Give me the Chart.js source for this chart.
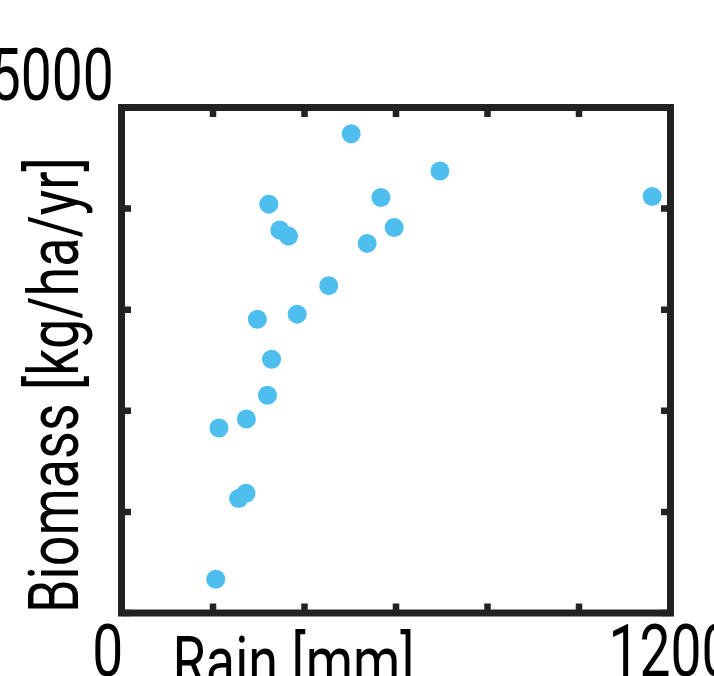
<!DOCTYPE html>
<html>
<head>
<meta charset="utf-8">
<script src="https://cdn.jsdelivr.net/npm/chart.js@4"></script>
<style>
  html, body { margin: 0; padding: 0; background: #fff; }
  #wrap { width: 714px; height: 676px; }
</style>
</head>
<body>
<div id="wrap"><canvas id="chart" width="714" height="676"></canvas></div>
<script>
const rain = [502, 696, 567, 1160, 322, 346, 365, 596, 537, 453, 384, 297, 328, 319, 273, 213, 272, 256, 206];
const biomass = [4741, 4371, 4109, 4119, 4044, 3789, 3728, 3813, 3656, 3238, 2956, 2905, 2510, 2153, 1918, 1830, 1184, 1133, 333];
const xLabelled = [0, 1200];
const yLabelled = [5000];
const xTitle = "Rain [mm]";
const yTitle = "Biomass [kg/ha/yr]";

const FONT = "Roboto, 'DejaVu Sans Condensed', sans-serif";
const INK = "#222";
const TICK_SIZE = 73;
const TITLE_SIZE = 70;

const canvas = document.querySelector("#chart");
const ctx = canvas.getContext("2d");

// no condensed face is installed, so squeeze the text horizontally round its anchor
const squeeze = { [TICK_SIZE]: 0.756, [TITLE_SIZE]: 0.77 };
const rawFillText = ctx.fillText.bind(ctx);
ctx.fillText = function (text, x, y) {
  const m = /(\d+(?:\.\d+)?)px/.exec(this.font);
  const sx = (m && squeeze[Math.round(+m[1])]) || 1;
  this.save();
  this.translate(x, y);
  this.scale(sx, 1);
  rawFillText(text, 0, 0);
  this.restore();
};

// box round the plot with inward tick marks on all four sides
const frame = {
  id: "frame",
  afterDatasetsDraw(chart) {
    const { ctx, chartArea: a, scales } = chart;
    ctx.save();
    ctx.strokeStyle = INK;
    ctx.lineWidth = 7;
    ctx.strokeRect(a.left, a.top, a.right - a.left, a.bottom - a.top);
    ctx.lineWidth = 6.5;
    ctx.beginPath();
    scales.x.ticks.forEach(t => {
      const px = scales.x.getPixelForValue(t.value);
      ctx.moveTo(px, a.bottom); ctx.lineTo(px, a.bottom - 9.5);
      ctx.moveTo(px, a.top); ctx.lineTo(px, a.top + 9.5);
    });
    scales.y.ticks.forEach(t => {
      const py = scales.y.getPixelForValue(t.value);
      ctx.moveTo(a.left, py); ctx.lineTo(a.left + 9.5, py);
      ctx.moveTo(a.right, py); ctx.lineTo(a.right - 9.5, py);
    });
    ctx.stroke();
    ctx.restore();
  }
};

new Chart(ctx, {
  type: "scatter",
  data: {
    datasets: [{
      data: rain.map((x, i) => ({ x, y: biomass[i] })),
      backgroundColor: "#4DBEEE",
      borderWidth: 0,
      pointRadius: 9.5,
    }],
  },
  options: {
    responsive: false,
    animation: false,
    layout: { padding: { top: 107.5, right: 43.5, left: 0, bottom: 0 } },
    plugins: { legend: { display: false }, tooltip: { enabled: false } },
    scales: {
      x: {
        type: "linear",
        min: 0,
        max: 1200,
        grid: { display: false, drawTicks: false },
        border: { display: false },
        ticks: {
          stepSize: 200,
          autoSkip: false,
          maxRotation: 0,
          minRotation: 0,
          padding: 8.5,
          color: "#000",
          font: { family: FONT, size: TICK_SIZE, lineHeight: 1 },
          callback: v => (v === 0 ? "0  " : xLabelled.includes(v) ? String(v) : ""),
        },
        title: {
          display: true,
          text: "   \u2009" + xTitle,
          align: "start",
          color: "#000",
          font: { family: FONT, size: TITLE_SIZE, lineHeight: 1 },
          padding: { top: 0, bottom: -27.8 },
        },
        afterFit(s) { s.height = 63; s.paddingLeft = 0; s.paddingRight = 0; },
      },
      y: {
        type: "linear",
        min: 0,
        max: 5000,
        grid: { display: false, drawTicks: false },
        border: { display: false },
        ticks: {
          stepSize: 1000,
          autoSkip: false,
          padding: 7.7,
          labelOffset: -25.5,
          color: "#000",
          font: { family: FONT, size: TICK_SIZE, lineHeight: 1 },
          callback: v => (yLabelled.includes(v) ? String(v) : ""),
        },
        title: {
          display: true,
          text: yTitle,
          align: "start",
          color: "#000",
          font: { family: FONT, size: TITLE_SIZE, lineHeight: 1 },
          padding: { top: 25.8, bottom: 0 },
        },
        afterFit(s) { s.width = 121.5; },
      },
    },
  },
  plugins: [frame],
});
</script>
</body>
</html>
